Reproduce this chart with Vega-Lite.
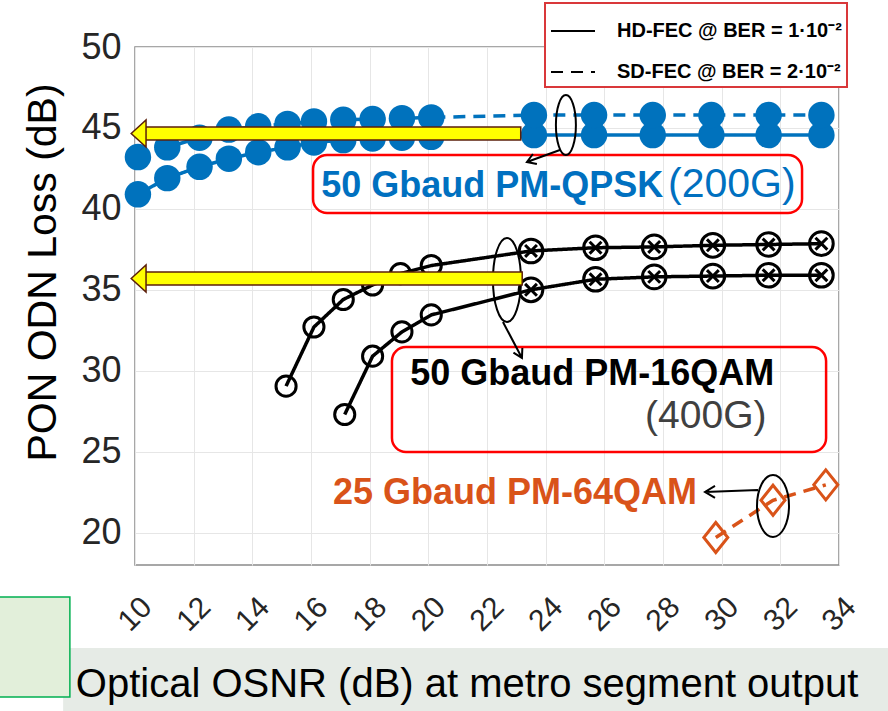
{
  "$schema": "https://vega.github.io/schema/vega-lite/v6.json",
  "width": 704,
  "height": 518,
  "autosize": {"type": "none"},
  "padding": {"left": 135, "top": 47, "right": 49, "bottom": 146},
  "background": "white",
  "config": {
    "view": {"stroke": "#8a8a8a", "strokeWidth": 1.5},
    "font": "Liberation Sans"
  },
  "datasets": {
    "pts": [
      {"g": "Q", "s": "q1", "f": "HD", "m": "d", "x": 10.1, "y": 40.9},
      {"g": "Q", "s": "q1", "f": "HD", "m": "d", "x": 11.1, "y": 41.9},
      {"g": "Q", "s": "q1", "f": "HD", "m": "d", "x": 12.2, "y": 42.6},
      {"g": "Q", "s": "q1", "f": "HD", "m": "d", "x": 13.2, "y": 43.1},
      {"g": "Q", "s": "q1", "f": "HD", "m": "d", "x": 14.2, "y": 43.5},
      {"g": "Q", "s": "q1", "f": "HD", "m": "d", "x": 15.2, "y": 43.8},
      {"g": "Q", "s": "q1", "f": "HD", "m": "d", "x": 16.1, "y": 44.1},
      {"g": "Q", "s": "q1", "f": "HD", "m": "d", "x": 17.1, "y": 44.25},
      {"g": "Q", "s": "q1", "f": "HD", "m": "d", "x": 18.1, "y": 44.35},
      {"g": "Q", "s": "q1", "f": "HD", "m": "d", "x": 19.1, "y": 44.4},
      {"g": "Q", "s": "q1", "f": "HD", "m": "d", "x": 20.1, "y": 44.45},
      {"g": "Q", "s": "q1", "f": "HD", "m": "d", "x": 23.6, "y": 44.56},
      {"g": "Q", "s": "q1", "f": "HD", "m": "d", "x": 25.65, "y": 44.56},
      {"g": "Q", "s": "q1", "f": "HD", "m": "d", "x": 27.65, "y": 44.56},
      {"g": "Q", "s": "q1", "f": "HD", "m": "d", "x": 29.65, "y": 44.56},
      {"g": "Q", "s": "q1", "f": "HD", "m": "d", "x": 31.6, "y": 44.56},
      {"g": "Q", "s": "q1", "f": "HD", "m": "d", "x": 33.4, "y": 44.56},
      {"g": "Q", "s": "q2", "f": "SD", "m": "d", "x": 10.1, "y": 43.2},
      {"g": "Q", "s": "q2", "f": "SD", "m": "d", "x": 11.1, "y": 43.8},
      {"g": "Q", "s": "q2", "f": "SD", "m": "d", "x": 12.2, "y": 44.4},
      {"g": "Q", "s": "q2", "f": "SD", "m": "d", "x": 13.2, "y": 44.9},
      {"g": "Q", "s": "q2", "f": "SD", "m": "d", "x": 14.2, "y": 45.1},
      {"g": "Q", "s": "q2", "f": "SD", "m": "d", "x": 15.2, "y": 45.25},
      {"g": "Q", "s": "q2", "f": "SD", "m": "d", "x": 16.1, "y": 45.4},
      {"g": "Q", "s": "q2", "f": "SD", "m": "d", "x": 17.1, "y": 45.5},
      {"g": "Q", "s": "q2", "f": "SD", "m": "d", "x": 18.1, "y": 45.55},
      {"g": "Q", "s": "q2", "f": "SD", "m": "d", "x": 19.1, "y": 45.6},
      {"g": "Q", "s": "q2", "f": "SD", "m": "d", "x": 20.1, "y": 45.65},
      {"g": "Q", "s": "q2", "f": "SD", "m": "d", "x": 23.6, "y": 45.8},
      {"g": "Q", "s": "q2", "f": "SD", "m": "d", "x": 25.65, "y": 45.8},
      {"g": "Q", "s": "q2", "f": "SD", "m": "d", "x": 27.65, "y": 45.8},
      {"g": "Q", "s": "q2", "f": "SD", "m": "d", "x": 29.65, "y": 45.8},
      {"g": "Q", "s": "q2", "f": "SD", "m": "d", "x": 31.6, "y": 45.8},
      {"g": "Q", "s": "q2", "f": "SD", "m": "d", "x": 33.4, "y": 45.8},
      {"g": "B", "s": "b1", "f": "HD", "m": "o", "x": 15.15, "y": 29.05},
      {"g": "B", "s": "b1", "f": "HD", "m": "o", "x": 16.1, "y": 32.7},
      {"g": "B", "s": "b1", "f": "HD", "m": "o", "x": 17.1, "y": 34.4},
      {"g": "B", "s": "b1", "f": "HD", "m": "o", "x": 18.1, "y": 35.3},
      {"g": "B", "s": "b1", "f": "HD", "m": "o", "x": 19.05, "y": 36.0},
      {"g": "B", "s": "b1", "f": "HD", "m": "o", "x": 20.1, "y": 36.5},
      {"g": "B", "s": "b1", "f": "HD", "m": "x", "x": 23.5, "y": 37.4},
      {"g": "B", "s": "b1", "f": "HD", "m": "x", "x": 25.7, "y": 37.6},
      {"g": "B", "s": "b1", "f": "HD", "m": "x", "x": 27.7, "y": 37.65},
      {"g": "B", "s": "b1", "f": "HD", "m": "x", "x": 29.7, "y": 37.75},
      {"g": "B", "s": "b1", "f": "HD", "m": "x", "x": 31.6, "y": 37.8},
      {"g": "B", "s": "b1", "f": "HD", "m": "x", "x": 33.4, "y": 37.85},
      {"g": "B", "s": "b2", "f": "HD", "m": "o", "x": 17.15, "y": 27.3},
      {"g": "B", "s": "b2", "f": "HD", "m": "o", "x": 18.1, "y": 30.9},
      {"g": "B", "s": "b2", "f": "HD", "m": "o", "x": 19.1, "y": 32.4},
      {"g": "B", "s": "b2", "f": "HD", "m": "o", "x": 20.1, "y": 33.45},
      {"g": "B", "s": "b2", "f": "HD", "m": "x", "x": 23.5, "y": 35.0},
      {"g": "B", "s": "b2", "f": "HD", "m": "x", "x": 25.7, "y": 35.65},
      {"g": "B", "s": "b2", "f": "HD", "m": "x", "x": 27.7, "y": 35.8},
      {"g": "B", "s": "b2", "f": "HD", "m": "x", "x": 29.7, "y": 35.85},
      {"g": "B", "s": "b2", "f": "HD", "m": "x", "x": 31.6, "y": 35.9},
      {"g": "B", "s": "b2", "f": "HD", "m": "x", "x": 33.4, "y": 35.9},
      {"g": "O", "s": "o1", "f": "SD", "m": "v", "x": 29.8, "y": 19.7},
      {"g": "O", "s": "o1", "f": "SD", "m": "v", "x": 31.75, "y": 22.0},
      {"g": "O", "s": "o1", "f": "SD", "m": "v", "x": 33.55, "y": 22.95}
    ],
    "arrows": [
      {"x": 10.3, "x2": 23.15, "y": 45.06, "y2": 44.26, "tx": 9.87, "ty": 44.66, "cx": 10.45, "cx2": 10.65, "cy": 44.99, "cy2": 44.33},
      {"x": 10.3, "x2": 23.2, "y": 36.1, "y2": 35.3, "tx": 9.87, "ty": 35.7, "cx": 10.45, "cx2": 10.65, "cy": 36.03, "cy2": 35.37}
    ],
    "boxes": [
      {"x": 16.07, "x2": 32.74, "y": 43.33, "y2": 39.75},
      {"x": 18.76, "x2": 33.56, "y": 31.47, "y2": 24.98}
    ]
  },
  "layer": [
    {
      "data": {"values": [{"x": 7.55, "x2": 35.8, "y": 12.88, "y2": 8.9}]},
      "mark": {"type": "rect", "fill": "#e6ebe6", "stroke": null},
      "encoding": {
        "x": {
          "field": "x", "type": "quantitative", "title": null,
          "scale": {"domain": [10, 34], "nice": false, "zero": false},
          "axis": {
            "values": [10, 12, 14, 16, 18, 20, 22, 24, 26, 28, 30, 32, 34],
            "title": null, "domain": false, "ticks": false,
            "grid": true, "gridColor": "#e6e6e6", "gridWidth": 1,
            "labelAngle": -45, "labelAlign": "center", "labelBaseline": "middle",
            "labelPadding": 49, "labelDx": 5, "labelFontSize": 30, "labelColor": "#262626",
            "labelFont": "Liberation Sans", "labelOverlap": false
          }
        },
        "x2": {"field": "x2"},
        "y": {
          "field": "y", "type": "quantitative", "title": "PON ODN Loss (dB)",
          "scale": {"domain": [18, 50], "nice": false, "zero": false},
          "axis": {
            "values": [20, 25, 30, 35, 40, 45, 50],
            "title": "PON ODN Loss (dB)", "domain": false, "ticks": false,
            "grid": true, "gridColor": "#e6e6e6", "gridWidth": 1,
            "labelPadding": 14, "labelFontSize": 36, "labelColor": "#262626",
            "labelFont": "Liberation Sans", "labelBaseline": "middle",
            "titleFont": "Liberation Sans", "titleFontSize": 41, "titleFontWeight": "normal",
            "titleColor": "#000000", "titleAngle": 270, "titleAlign": "center",
            "titleBaseline": "middle", "titleX": -92, "titleY": 225
          }
        },
        "y2": {"field": "y2"}
      }
    },
    {
      "data": {"values": [{"x": 5.3, "x2": 7.78, "y": 16.03, "y2": 9.85}]},
      "mark": {"type": "rect", "fill": "#e2efda", "stroke": "#00b050", "strokeWidth": 1.5},
      "encoding": {
        "x": {"field": "x", "type": "quantitative", "title": null},
        "x2": {"field": "x2"},
        "y": {"field": "y", "type": "quantitative", "title": "PON ODN Loss (dB)"},
        "y2": {"field": "y2"}
      }
    },
    {
      "data": {"name": "boxes"},
      "mark": {"type": "rect", "fill": "transparent", "stroke": "#ff0000", "strokeWidth": 2.5, "cornerRadius": 14},
      "encoding": {
        "x": {"field": "x", "type": "quantitative", "title": null},
        "x2": {"field": "x2"},
        "y": {"field": "y", "type": "quantitative", "title": "PON ODN Loss (dB)"},
        "y2": {"field": "y2"}
      }
    },
    {
      "data": {"name": "pts"},
      "mark": {"type": "line", "strokeWidth": 3.5},
      "encoding": {
        "x": {"field": "x", "type": "quantitative", "title": null},
        "y": {"field": "y", "type": "quantitative", "title": "PON ODN Loss (dB)"},
        "color": {
          "field": "g", "type": "nominal",
          "scale": {"domain": ["Q", "B", "O"], "range": ["#0072BD", "#000000", "#D95319"]},
          "legend": null
        },
        "strokeDash": {
          "field": "f", "type": "nominal",
          "scale": {"domain": ["HD", "SD"], "range": [[1, 0], [12, 8]]},
          "legend": {
            "title": null, "orient": "none", "legendX": 410, "legendY": -44,
            "direction": "vertical",
            "labelExpr": "datum.value === 'HD' ? 'HD-FEC @ BER = 1·10⁻²' : 'SD-FEC @ BER = 2·10⁻²'",
            "symbolType": "stroke", "symbolSize": 1936, "symbolStrokeWidth": 2,
            "symbolStrokeColor": "#000000",
            "labelFont": "Liberation Sans", "labelFontSize": 20, "labelFontWeight": "bold",
            "labelColor": "#000000", "labelOffset": 21, "labelLimit": 400,
            "padding": 5, "rowPadding": 8,
            "strokeColor": "#d9383a", "fillColor": "#ffffff",
            "encode": {
              "symbols": {"update": {"strokeDash": [{"test": "datum.value === 'SD'", "value": [7, 5]}, {"value": [1, 0]}]}},
              "legend": {"update": {"strokeWidth": {"value": 2}}}
            }
          }
        },
        "detail": {"field": "s"},
        "order": {"field": "x"}
      }
    },
    {
      "data": {"values": [{"x": 24.69, "y": 45.18}]},
      "mark": {"type": "point", "shape": "M-10,0 A10,30 0 1,0 10,0 A10,30 0 1,0 -10,0 M-6,25 L-39,37 M-29,39 L-39,37 L-33,29", "size": 4, "filled": false, "stroke": "#000000", "strokeWidth": 2, "opacity": 1},
      "encoding": {
        "x": {"field": "x", "type": "quantitative", "title": null},
        "y": {"field": "y", "type": "quantitative", "title": "PON ODN Loss (dB)"}
      }
    },
    {
      "data": {"values": [{"x": 22.68, "y": 35.61}]},
      "mark": {"type": "point", "shape": "M-14,0 A14,42 0 1,0 14,0 A14,42 0 1,0 -14,0 M-4,42 L15,78 M15.4,68 L15,78 L6.5,72.7", "size": 4, "filled": false, "stroke": "#000000", "strokeWidth": 2, "opacity": 1},
      "encoding": {
        "x": {"field": "x", "type": "quantitative", "title": null},
        "y": {"field": "y", "type": "quantitative", "title": "PON ODN Loss (dB)"}
      }
    },
    {
      "data": {"values": [{"x": 31.75, "y": 21.65}]},
      "mark": {"type": "point", "shape": "M-16,0 A16,31 0 1,0 16,0 A16,31 0 1,0 -16,0 M-15,-16 L-68,-14 M-58,-20 L-68,-14 L-58,-8", "size": 4, "filled": false, "stroke": "#000000", "strokeWidth": 2, "opacity": 1},
      "encoding": {
        "x": {"field": "x", "type": "quantitative", "title": null},
        "y": {"field": "y", "type": "quantitative", "title": "PON ODN Loss (dB)"}
      }
    },
    {
      "data": {"name": "pts"},
      "transform": [{"filter": "datum.g === 'Q'"}],
      "mark": {"type": "point", "shape": "circle", "filled": true, "color": "#0072BD", "size": 700, "opacity": 1},
      "encoding": {
        "x": {"field": "x", "type": "quantitative", "title": null},
        "y": {"field": "y", "type": "quantitative", "title": "PON ODN Loss (dB)"}
      }
    },
    {
      "data": {"name": "pts"},
      "transform": [{"filter": "datum.g === 'B'"}],
      "mark": {"type": "point", "filled": false, "stroke": "#000000", "strokeWidth": 3, "size": 560, "opacity": 1},
      "encoding": {
        "x": {"field": "x", "type": "quantitative", "title": null},
        "y": {"field": "y", "type": "quantitative", "title": "PON ODN Loss (dB)"},
        "shape": {
          "field": "m", "type": "nominal",
          "scale": {"domain": ["o", "x"], "range": ["M0.85,0 A0.85,0.85 0 1,1 -0.85,0 A0.85,0.85 0 1,1 0.85,0 Z", "M1,0 A1,1 0 1,1 -1,0 A1,1 0 1,1 1,0 Z M-0.5,-0.5 L0.5,0.5 M-0.5,0.5 L0.5,-0.5"]},
          "legend": null
        }
      }
    },
    {
      "data": {"name": "pts"},
      "transform": [{"filter": "datum.g === 'O'"}],
      "mark": {"type": "point", "shape": "M0,-1 L0.8,0 L0,1 L-0.8,0 Z", "filled": false, "stroke": "#D95319", "strokeWidth": 3, "size": 900, "opacity": 1},
      "encoding": {
        "x": {"field": "x", "type": "quantitative", "title": null},
        "y": {"field": "y", "type": "quantitative", "title": "PON ODN Loss (dB)"}
      }
    },
    {
      "data": {"name": "arrows"},
      "mark": {"type": "rect", "fill": "#ffff00", "stroke": "#5b1f0a", "strokeWidth": 1.5},
      "encoding": {
        "x": {"field": "x", "type": "quantitative", "title": null},
        "x2": {"field": "x2"},
        "y": {"field": "y", "type": "quantitative", "title": "PON ODN Loss (dB)"},
        "y2": {"field": "y2"}
      }
    },
    {
      "data": {"name": "arrows"},
      "mark": {"type": "point", "shape": "M0,0 L1.1,-1 L1.1,1 Z", "size": 729, "filled": true, "fill": "#ffff00", "stroke": "#5b1f0a", "strokeWidth": 1.5, "opacity": 1},
      "encoding": {
        "x": {"field": "tx", "type": "quantitative", "title": null},
        "y": {"field": "ty", "type": "quantitative", "title": "PON ODN Loss (dB)"}
      }
    },
    {
      "data": {"name": "arrows"},
      "mark": {"type": "rect", "fill": "#ffff00", "stroke": null},
      "encoding": {
        "x": {"field": "cx", "type": "quantitative", "title": null},
        "x2": {"field": "cx2"},
        "y": {"field": "cy", "type": "quantitative", "title": "PON ODN Loss (dB)"},
        "y2": {"field": "cy2"}
      }
    },
    {
      "data": {"values": [{"x": 16.35, "y": 41.4, "t": "50 Gbaud PM-QPSK"}]},
      "mark": {"type": "text", "align": "left", "baseline": "middle", "font": "Liberation Sans", "fontSize": 36, "fontWeight": "bold", "color": "#0070C0"},
      "encoding": {
        "x": {"field": "x", "type": "quantitative", "title": null},
        "y": {"field": "y", "type": "quantitative", "title": "PON ODN Loss (dB)"},
        "text": {"field": "t"}
      }
    },
    {
      "data": {"values": [{"x": 28.17, "y": 41.45, "t": "(200G)"}]},
      "mark": {"type": "text", "align": "left", "baseline": "middle", "font": "Liberation Sans", "fontSize": 41, "fontWeight": "normal", "color": "#0070C0"},
      "encoding": {
        "x": {"field": "x", "type": "quantitative", "title": null},
        "y": {"field": "y", "type": "quantitative", "title": "PON ODN Loss (dB)"},
        "text": {"field": "t"}
      }
    },
    {
      "data": {"values": [{"x": 19.38, "y": 29.8, "t": "50 Gbaud PM-16QAM"}]},
      "mark": {"type": "text", "align": "left", "baseline": "middle", "font": "Liberation Sans", "fontSize": 36, "fontWeight": "bold", "color": "#000000"},
      "encoding": {
        "x": {"field": "x", "type": "quantitative", "title": null},
        "y": {"field": "y", "type": "quantitative", "title": "PON ODN Loss (dB)"},
        "text": {"field": "t"}
      }
    },
    {
      "data": {"values": [{"x": 27.39, "y": 27.2, "t": "(400G)"}]},
      "mark": {"type": "text", "align": "left", "baseline": "middle", "font": "Liberation Sans", "fontSize": 39, "fontWeight": "normal", "color": "#404040"},
      "encoding": {
        "x": {"field": "x", "type": "quantitative", "title": null},
        "y": {"field": "y", "type": "quantitative", "title": "PON ODN Loss (dB)"},
        "text": {"field": "t"}
      }
    },
    {
      "data": {"values": [{"x": 16.75, "y": 22.45, "t": "25 Gbaud PM-64QAM"}]},
      "mark": {"type": "text", "align": "left", "baseline": "middle", "font": "Liberation Sans", "fontSize": 36, "fontWeight": "bold", "color": "#D95319"},
      "encoding": {
        "x": {"field": "x", "type": "quantitative", "title": null},
        "y": {"field": "y", "type": "quantitative", "title": "PON ODN Loss (dB)"},
        "text": {"field": "t"}
      }
    },
    {
      "data": {"values": [{"x": 21.32, "y": 10.59, "t": "Optical OSNR (dB) at metro segment output"}]},
      "mark": {"type": "text", "align": "center", "baseline": "middle", "font": "Liberation Sans", "fontSize": 40, "fontWeight": "normal", "color": "#000000"},
      "encoding": {
        "x": {"field": "x", "type": "quantitative", "title": null},
        "y": {"field": "y", "type": "quantitative", "title": "PON ODN Loss (dB)"},
        "text": {"field": "t"}
      }
    }
  ]
}
